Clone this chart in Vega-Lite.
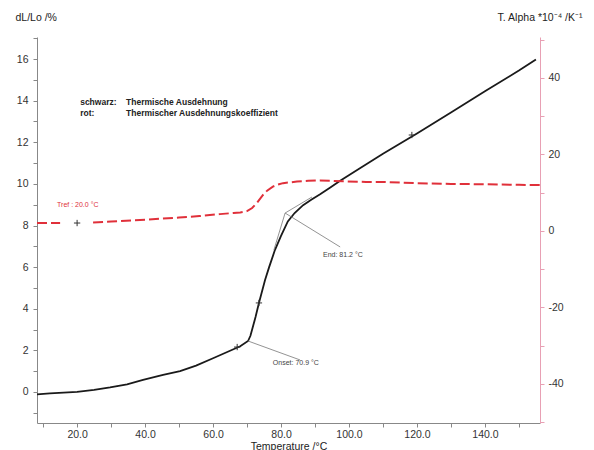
{
  "$schema": "https://vega.github.io/schema/vega-lite/v6.json",
  "width": 503,
  "height": 386,
  "autosize": {"type": "none"},
  "padding": {"left": 37, "top": 37, "right": 54, "bottom": 27},
  "background": "white",
  "config": {
    "view": {"stroke": null},
    "font": "Liberation Sans",
    "axis": {"grid": false, "labelFont": "Liberation Sans", "titleFont": "Liberation Sans", "labelFontSize": 10.5, "titleFontSize": 10.5, "titleFontWeight": "normal", "labelColor": "#333", "titleColor": "#222", "tickSize": 4}
  },
  "datasets": {
    "black": [
      {"t": 8.2, "v": -0.11}, {"t": 12, "v": -0.07}, {"t": 16, "v": -0.03}, {"t": 20, "v": 0.01},
      {"t": 25, "v": 0.1}, {"t": 29.7, "v": 0.22}, {"t": 34.7, "v": 0.37}, {"t": 39.4, "v": 0.58},
      {"t": 45.3, "v": 0.82}, {"t": 50.3, "v": 1.0}, {"t": 55, "v": 1.27}, {"t": 60, "v": 1.62},
      {"t": 65, "v": 1.98}, {"t": 68, "v": 2.2}, {"t": 70.3, "v": 2.45}, {"t": 71.0, "v": 2.7},
      {"t": 71.5, "v": 3.0}, {"t": 72.5, "v": 3.6}, {"t": 73.5, "v": 4.28}, {"t": 75.3, "v": 5.38},
      {"t": 76.5, "v": 6.0}, {"t": 78.2, "v": 6.82}, {"t": 80, "v": 7.5}, {"t": 82, "v": 8.2},
      {"t": 84, "v": 8.6}, {"t": 86.5, "v": 8.98}, {"t": 89, "v": 9.25}, {"t": 91.5, "v": 9.5},
      {"t": 94.5, "v": 9.83}, {"t": 97.4, "v": 10.15}, {"t": 102.4, "v": 10.67}, {"t": 110, "v": 11.45},
      {"t": 120, "v": 12.42}, {"t": 130, "v": 13.43}, {"t": 140, "v": 14.45}, {"t": 150, "v": 15.45},
      {"t": 155, "v": 15.98}
    ],
    "red": [
      {"t": 8.2, "a": 2.1, "seg": 1}, {"t": 15, "a": 2.1, "seg": 1},
      {"t": 24.7, "a": 2.2, "seg": 2}, {"t": 30, "a": 2.45, "seg": 2}, {"t": 40, "a": 2.95, "seg": 2},
      {"t": 50, "a": 3.5, "seg": 2}, {"t": 56, "a": 3.9, "seg": 2}, {"t": 62, "a": 4.4, "seg": 2},
      {"t": 66, "a": 4.7, "seg": 2}, {"t": 68, "a": 4.85, "seg": 2}, {"t": 70, "a": 5.2, "seg": 2},
      {"t": 71.5, "a": 6.0, "seg": 2}, {"t": 72.9, "a": 7.3, "seg": 2}, {"t": 74.7, "a": 9.4, "seg": 2},
      {"t": 76, "a": 10.6, "seg": 2}, {"t": 77.6, "a": 11.6, "seg": 2}, {"t": 79, "a": 12.1, "seg": 2},
      {"t": 80.6, "a": 12.5, "seg": 2}, {"t": 84.7, "a": 12.9, "seg": 2}, {"t": 88, "a": 13.1, "seg": 2},
      {"t": 91.5, "a": 13.2, "seg": 2}, {"t": 95, "a": 13.1, "seg": 2}, {"t": 99.4, "a": 12.95, "seg": 2},
      {"t": 105, "a": 12.8, "seg": 2}, {"t": 110, "a": 12.8, "seg": 2}, {"t": 120, "a": 12.5, "seg": 2},
      {"t": 130, "a": 12.3, "seg": 2}, {"t": 140, "a": 12.2, "seg": 2}, {"t": 150, "a": 12.05, "seg": 2},
      {"t": 156.2, "a": 12.0, "seg": 2}
    ],
    "segments": [
      {"t": 70.3, "v": 2.45, "t2": 85.6, "v2": 1.54},
      {"t": 81.2, "v": 8.6, "t2": 89.1, "v2": 9.37},
      {"t": 81.2, "v": 8.6, "t2": 77.9, "v2": 6.82},
      {"t": 81.2, "v": 8.6, "t2": 97.4, "v2": 6.97}
    ],
    "marks": [
      {"t": 20, "v": 8.12}, {"t": 73.5, "v": 4.28}, {"t": 118.5, "v": 12.35}, {"t": 67.1, "v": 2.16}
    ],
    "notes": [
      {"t": 14.1, "v": 8.99, "label": "Tref : 20.0 °C", "kind": "red"},
      {"t": 92.35, "v": 6.58, "label": "End: 81.2 °C", "kind": "gray"},
      {"t": 77.6, "v": 1.39, "label": "Onset: 70.9 °C", "kind": "gray"}
    ],
    "legend": [
      {"t": 20.9, "v": 13.94, "label": "schwarz:"},
      {"t": 20.9, "v": 13.4, "label": "rot:"},
      {"t": 34.4, "v": 13.94, "label": "Thermische Ausdehnung"},
      {"t": 34.4, "v": 13.4, "label": "Thermischer Ausdehnungskoeffizient"}
    ]
  },
  "encoding": {
    "x": {"field": "t", "type": "quantitative", "scale": {"domain": [8.2, 156.2], "nice": false, "zero": false},
      "axis": {"title": "Temperature /°C", "values": [10, 20, 30, 40, 50, 60, 70, 80, 90, 100, 110, 120, 130, 140, 150],
        "labelExpr": "datum.value % 20 == 0 ? format(datum.value, '.1f') : ''", "domainColor": "#888", "tickColor": "#888",
        "labelPadding": 2, "titleBaseline": "top", "titleY": 18}}
  },
  "layer": [
    {
      "encoding": {
        "y": {"field": "v", "type": "quantitative", "scale": {"domain": [-1.49, 17.06], "nice": false, "zero": false},
          "axis": {"title": "dL/Lo /%", "values": [-1, 0, 1, 2, 3, 4, 5, 6, 7, 8, 9, 10, 11, 12, 13, 14, 15, 16, 17],
            "labelExpr": "datum.value % 2 == 0 && datum.value >= 0 ? datum.value : ''", "domainColor": "#888", "tickColor": "#888",
            "labelPadding": 5, "titleAngle": 0, "titleX": -22, "titleY": -20, "titleAlign": "left", "titleBaseline": "middle"}}
      },
      "layer": [
        {
          "data": {"name": "black"},
          "mark": {"type": "line", "color": "#1a1a1a", "strokeWidth": 1.8}
        },
        {
          "data": {"name": "segments"},
          "mark": {"type": "rule", "color": "#777", "strokeWidth": 0.8},
          "encoding": {
            "x2": {"field": "t2"},
            "y2": {"field": "v2"}
          }
        },
        {
          "data": {"name": "marks"},
          "mark": {"type": "point", "shape": "M-1,0L1,0M0,-1L0,1", "filled": false, "stroke": "#333", "strokeWidth": 1, "size": 40, "opacity": 1}
        },
        {
          "data": {"name": "notes"},
          "mark": {"type": "text", "align": "left", "baseline": "middle", "fontSize": 7, "font": "Liberation Sans"},
          "encoding": {
            "text": {"field": "label"},
            "color": {"field": "kind", "type": "nominal", "scale": {"domain": ["red", "gray"], "range": ["#e0303a", "#444444"]}, "legend": null}
          }
        },
        {
          "data": {"name": "legend"},
          "mark": {"type": "text", "align": "left", "baseline": "middle", "fontSize": 8.5, "fontWeight": "bold", "color": "#222", "font": "Liberation Sans"},
          "encoding": {
            "text": {"field": "label"}
          }
        }
      ]
    },
    {
      "data": {"name": "red"},
      "mark": {"type": "line", "color": "#e0303a", "strokeWidth": 2, "strokeDash": [10, 4]},
      "encoding": {
        "y": {"field": "a", "type": "quantitative", "scale": {"domain": [-50.2, 50.7], "nice": false, "zero": false},
          "axis": {"orient": "right", "title": "T. Alpha *10⁻⁴ /K⁻¹", "values": [-50, -40, -30, -20, -10, 0, 10, 20, 30, 40, 50],
            "labelExpr": "datum.value % 20 == 0 ? datum.value : ''", "domainColor": "#e8a0b4", "tickColor": "#e8a0b4",
            "labelPadding": 4, "titleAngle": 0, "titleX": 42, "titleY": -20, "titleAlign": "right", "titleBaseline": "middle"}},
        "detail": {"field": "seg", "type": "nominal"}
      }
    }
  ],
  "resolve": {"scale": {"y": "independent"}}
}
